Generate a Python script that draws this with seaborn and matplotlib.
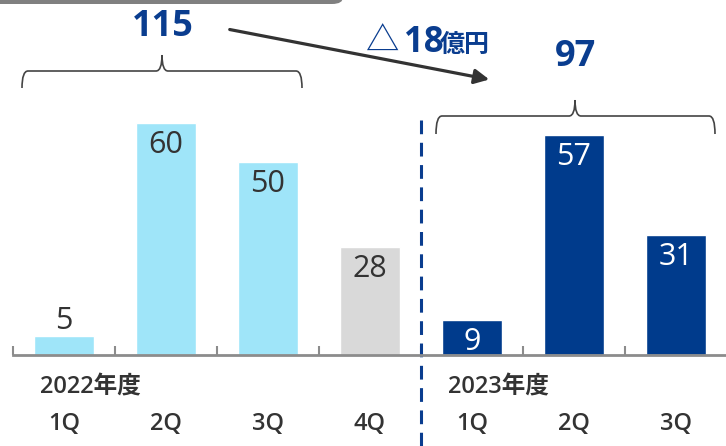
import pandas as pd
import numpy as np
import seaborn as sns
import matplotlib.pyplot as plt
from matplotlib.patches import FancyArrowPatch, FancyBboxPatch, PathPatch
from matplotlib.path import Path

quarters = ['1Q', '2Q', '3Q', '4Q', '1Q', '2Q', '3Q']
years = ['2022年度', '2022年度', '2022年度', '2022年度', '2023年度', '2023年度', '2023年度']
values = [5, 60, 50, 28, 9, 57, 31]
bar_colors = ['#9fe5f9', '#9fe5f9', '#9fe5f9', '#d9d9d9', '#003b8c', '#003b8c', '#003b8c']
label_colors = ['#333333', '#333333', '#333333', '#333333', 'white', 'white', 'white']
total_2022 = '115'
total_2023 = '97'
diff_label = '18'

df = pd.DataFrame({'period': [y + q for y, q in zip(years, quarters)], 'value': values})

sns.set_style('white')
plt.rcParams['font.family'] = ['Open Sans', 'Noto Sans CJK JP', 'DejaVu Sans']

W, H = 726, 446
fig = plt.figure(figsize=(W / 100, H / 100), dpi=100)
ax = fig.add_axes([13 / W, (H - 355) / H, 714 / W, 355 / H])

sns.barplot(data=df, x='period', y='value', hue='period', palette=bar_colors,
            legend=False, width=0.58, saturation=1, ax=ax)
ax.set_xlim(-0.5, 6.5)
ax.set_ylim(0, 355 / 3.86)
ax.set_xlabel('')
ax.set_ylabel('')
ax.set_yticks([])
ax.set_xticks([])
ax.set_xticks(np.arange(-0.5, 6, 1), minor=True)
ax.tick_params(axis='x', which='minor', bottom=True, direction='in', length=6.5, width=1.5,
               color='#8c8c8c')
for s in ['top', 'left', 'right']:
    ax.spines[s].set_visible(False)
ax.spines['bottom'].set_color('#8c8c8c')
ax.spines['bottom'].set_linewidth(2)

# value labels
for i, (v, c) in enumerate(zip(values, label_colors)):
    if v < 8 and c != 'white':
        ax.annotate(str(v), (i, v), xytext=(0, 0), textcoords='offset points',
                    ha='center', va='bottom', fontsize=22, color=c)
    else:
        ax.annotate(str(v), (i, v), xytext=(0, -5), textcoords='offset points',
                    ha='center', va='top', fontsize=22, color=c)

# quarter labels under the axis
for i, q in enumerate(quarters):
    ax.text(i, -0.195, q, transform=ax.get_xaxis_transform(), fontsize=17, fontweight='semibold',
            color='#333333', ha='center', va='center')


def fx(px):
    return px / W


def fy(py):
    return 1 - py / H


fig.text(fx(40), fy(387), years[0], fontsize=17, fontweight='semibold', color='#333333', va='center')
fig.text(fx(448), fy(387), years[4], fontsize=17, fontweight='semibold', color='#333333', va='center')

# dashed separator
ax.axvline(3.5, ymin=(355 - 446) / 355, ymax=(355 - 120) / 355, clip_on=False,
           color='#0a3d8f', lw=2.2, linestyle=(0, (4.5, 2.8)))


def bracket(x0, x1, xm, y, drop, rise):
    r = 6
    verts = [(x0, y + drop), (x0, y), (x0 + r, y),
             (xm - r, y), (xm, y), (xm, y - rise),
             (xm, y), (xm + r, y),
             (x1 - r, y), (x1, y), (x1, y + drop)]
    codes = [Path.MOVETO, Path.CURVE3, Path.CURVE3,
             Path.LINETO, Path.CURVE3, Path.CURVE3,
             Path.CURVE3, Path.CURVE3,
             Path.LINETO, Path.CURVE3, Path.CURVE3]
    verts = [(fx(a), fy(b)) for a, b in verts]
    fig.patches.append(PathPatch(Path(verts, codes), transform=fig.transFigure,
                                 fill=False, edgecolor='#444444', lw=1.2))


bracket(22, 302, 162, 71, 17, 16)
bracket(436, 715, 575, 116, 18, 16)

fig.text(fx(163), fy(27), total_2022, fontsize=26, fontweight='bold', color='#0a3d8f',
         ha='center', va='center')
fig.text(fx(576), fy(57), total_2023, fontsize=26, fontweight='bold', color='#0a3d8f',
         ha='center', va='center')

# arrow
fig.patches.append(FancyArrowPatch((fx(227), fy(29)), (fx(492), fy(80)), transform=fig.transFigure,
                                   arrowstyle='-|>', mutation_scale=22, color='#333333', lw=2.3))

fig.text(fx(366), fy(52), '△', family=['Noto Sans CJK JP'], fontsize=24, color='#0a3d8f',
         va='baseline')
fig.text(fx(404), fy(52), diff_label, fontsize=25, fontweight='bold', color='#0a3d8f', va='baseline')
fig.text(fx(440), fy(52), '億円', fontsize=18, fontweight='bold', color='#0a3d8f', va='baseline')

# grey band at the top
fig.patches.append(FancyBboxPatch((fx(-20), fy(4)), fx(363), fy(-10) - fy(4),
                                  boxstyle='round,pad=0,rounding_size=0.015',
                                  transform=fig.transFigure, facecolor='#808080', edgecolor='none'))

fig.savefig('out.png', dpi=100)
